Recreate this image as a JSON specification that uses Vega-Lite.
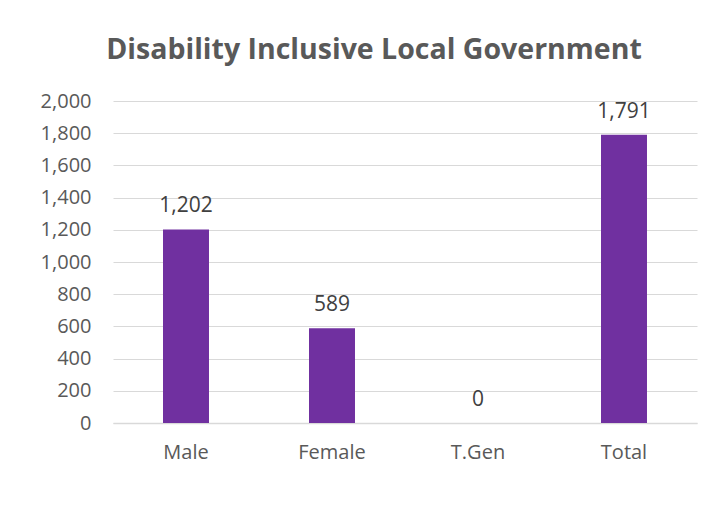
{
  "$schema": "https://vega.github.io/schema/vega-lite/v6.json",
  "width": 584,
  "height": 322,
  "autosize": {"type": "none"},
  "padding": {"left": 113, "top": 101, "right": 29, "bottom": 94},
  "background": "white",
  "title": {
    "text": "Disability Inclusive Local Government",
    "font": "Open Sans",
    "fontSize": 28.5,
    "fontWeight": "bold",
    "color": "#595959",
    "anchor": "middle",
    "offset": 27,
    "dx": -31
  },
  "data": {
    "values": [
      {"category": "Male", "value": 1202},
      {"category": "Female", "value": 589},
      {"category": "T.Gen", "value": 0},
      {"category": "Total", "value": 1791}
    ]
  },
  "config": {
    "view": {"stroke": null},
    "font": "Open Sans"
  },
  "encoding": {
    "x": {
      "field": "category",
      "type": "nominal",
      "sort": null,
      "scale": {"paddingInner": 0.685, "paddingOuter": 0.3425},
      "axis": {
        "title": null,
        "labelAngle": 0,
        "labelFont": "Open Sans",
        "labelFontSize": 20,
        "labelColor": "#595959",
        "labelPadding": 19,
        "ticks": false,
        "domainColor": "#d9d9d9",
        "domainWidth": 1.5,
        "grid": false
      }
    },
    "y": {
      "field": "value",
      "type": "quantitative",
      "scale": {"domain": [0, 2000], "nice": false},
      "axis": {
        "title": null,
        "values": [0, 200, 400, 600, 800, 1000, 1200, 1400, 1600, 1800, 2000],
        "format": ",d",
        "labelFont": "Open Sans",
        "labelFontSize": 20,
        "labelColor": "#595959",
        "labelPadding": 22,
        "ticks": false,
        "domain": false,
        "gridColor": "#d9d9d9",
        "gridWidth": 1
      }
    }
  },
  "layer": [
    {"mark": {"type": "bar", "color": "#7030a0"}},
    {
      "mark": {"type": "text", "baseline": "bottom", "dy": -13, "fontSize": 21, "color": "#404040", "font": "Open Sans"},
      "encoding": {"text": {"field": "value", "type": "quantitative", "format": ",d"}}
    }
  ]
}
